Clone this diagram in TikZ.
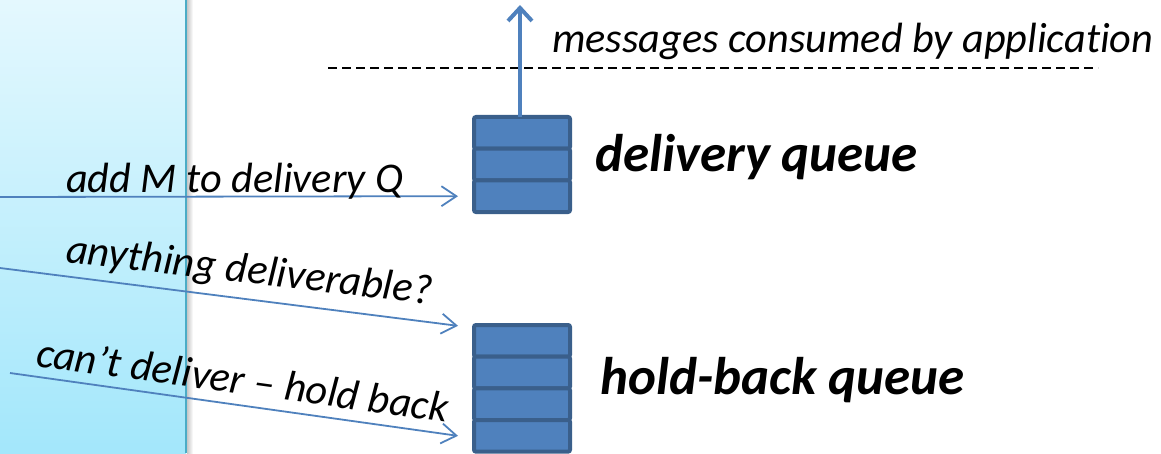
\documentclass[tikz,border=0pt]{standalone}
\usepackage{fontspec}
\setmainfont{Carlito}[Ligatures = NoCommon]
\usetikzlibrary{positioning}
\usetikzlibrary{arrows.meta}

\definecolor{qfill}{HTML}{4F81BD}
\definecolor{qedge}{HTML}{3A5F8B}
\definecolor{msgline}{HTML}{4F81BD}
\definecolor{paneltop}{HTML}{E4F8FE}
\definecolor{panelbot}{HTML}{A3E7FB}
\definecolor{paneledge}{HTML}{4BACC6}

\begin{document}
\begin{tikzpicture}[x = 1pt, y = -1pt,
		cell/.style = {draw = qedge, fill = qfill, line width = 4pt, rounded corners = 2pt, minimum width = 96pt, minimum height = 31.67pt, inner sep = 0pt, outer sep = 0pt},
		msg/.style = {msgline, line width = 1.8pt, -{Straight Barb[length = 15pt, width = 20pt]}},
		lbl/.style = {font = \fontsize{42.3}{50}\selectfont\itshape, inner sep = 0pt, anchor = base west},
		qname/.style = {font = \fontsize{53}{62}\selectfont\bfseries\itshape, inner sep = 0pt, anchor = base west}]
					\useasboundingbox (0, 0) rectangle (1161, 453);
					\clip (0, 0) rectangle (1161, 453);
					% process panel on the left
					\shade [top color = paneltop, bottom color = panelbot] (0, 0) rectangle (186, 453);
					\shade [left color = black!22, right color = white] (187, 0) rectangle (193, 453);
					\draw [paneledge, line width = 2pt] (186, 0) -- (186, 453);
					% the two queues
					\node [cell] (d1) at (522, 132.83) {};
					\node [cell, below = 0pt of d1] (d2) {};
					\node [cell, below = 0pt of d2] (d3) {};
					\node [cell] (h1) at (522, 340.83) {};
					\node [cell, below = 0pt of h1] (h2) {};
					\node [cell, below = 0pt of h2] (h3) {};
					\node [cell, below = 0pt of h3] (h4) {};
					\node [qname] (dqname) at (595, 171) {delivery queue};
					\node [qname] (hqname) at (600, 394) {hold-back queue};
					% delivery to the application
					\coordinate (app) at (520, 5);
					\coordinate (cutwest) at (328, 68);
					\coordinate (cuteast) at (1098, 68);
					\draw [black, line width = 1.3pt, dash pattern = on 9pt off 5pt] (cutwest) -- (cuteast);
					\draw [msgline, line width = 4pt, -{Straight Barb[length = 13pt, width = 24pt]}] ([xshift = -2pt]d1.north) -- (app);
					\node [lbl] (applbl) at (552, 52) {messages consumed by application};
					% incoming steps
					\coordinate (src1) at (0, 197);
					\coordinate (src2) at (0, 268);
					\coordinate (src3) at (10, 373);
					\draw [msg] (src1) -- ([xshift = -16pt]d3.west);
					\draw [msg] (src2) -- ([shift = {(-16, -15)}]h1.west);
					\draw [msg] (src3) -- ([xshift = -16pt]h4.west);
					\node [lbl] (addlbl) at (66, 192) {add M to delivery Q};
					\node [lbl, rotate = -6.6] (anylbl) at (65, 262) {anything deliverable?};
					\node [lbl, rotate = -7.8] (cantlbl) at (35, 366) {can’t deliver – hold back};
				\end{tikzpicture}
\end{document}
